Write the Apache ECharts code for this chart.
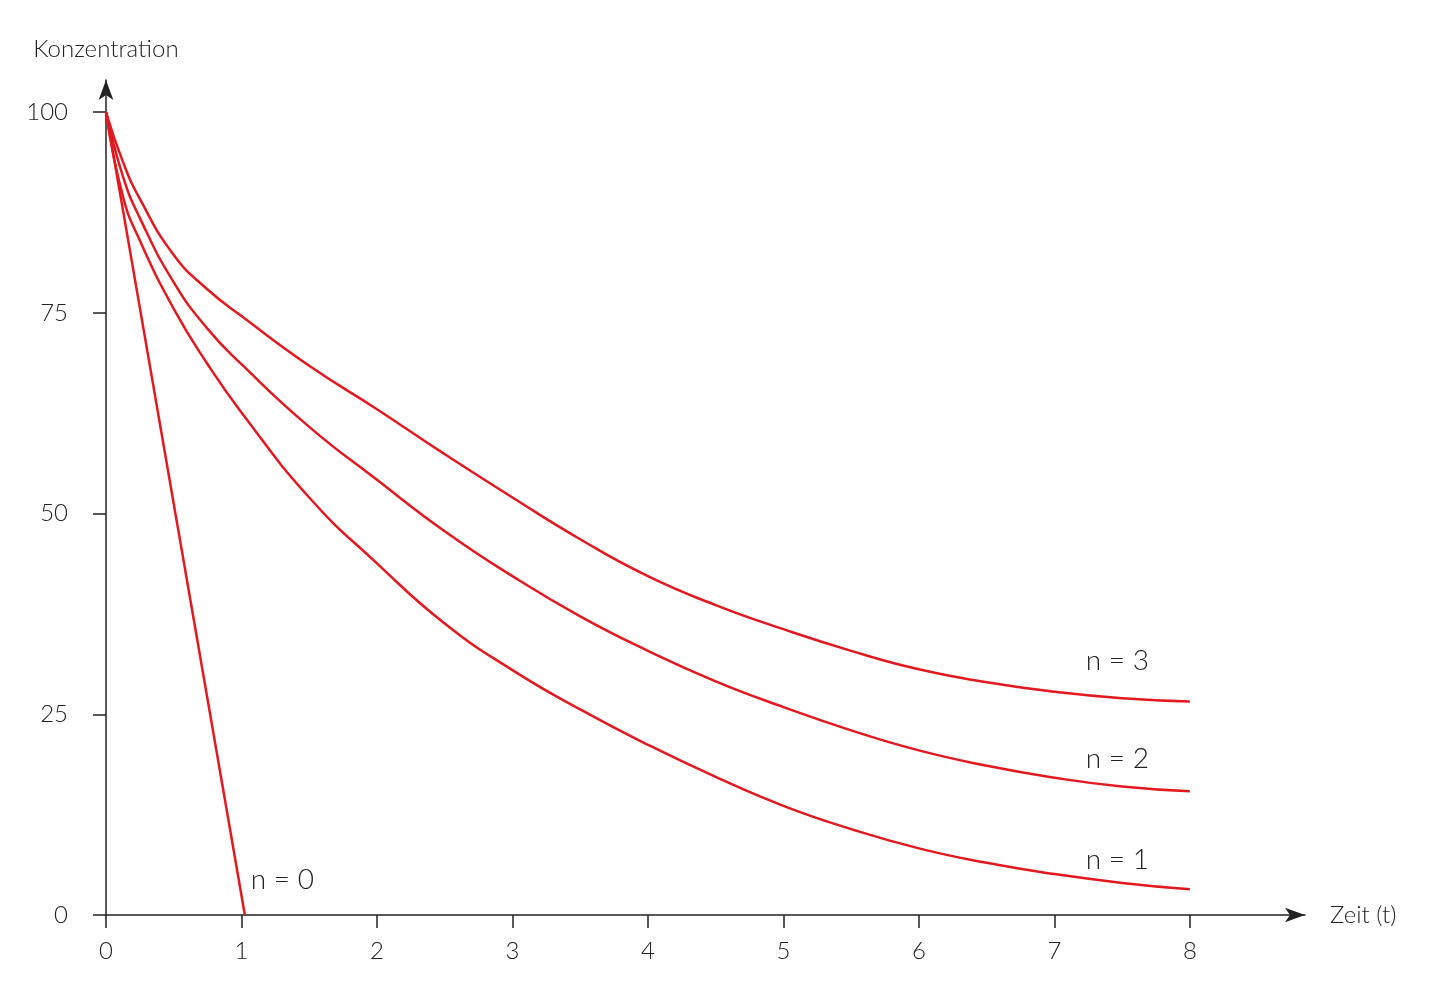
<!DOCTYPE html>
<html>
<head>
<meta charset="utf-8">
<title>Konzentration</title>
<script src="https://cdn.jsdelivr.net/npm/echarts@6/dist/echarts.min.js"></script>
<style>
  html, body { margin: 0; padding: 0; background: #fff; }
  #chart { width: 1450px; height: 999px; }
</style>
</head>
<body>
<div id="chart"></div>
<script>
const zeit = [0, 0.125, 0.25, 0.5, 0.75, 1, 1.5, 2, 2.5, 3, 3.5, 4, 4.5, 5, 5.5, 6, 6.5, 7, 7.5, 8]
const kN1 = [100, 89.5, 84, 75.5, 68.6, 62.6, 52.0, 43.8, 36.3, 30.5, 25.6, 21.2, 17.2, 13.6, 10.7, 8.3, 6.5, 5.1, 4.0, 3.2]
const kN2 = [100, 92, 86.8, 78.8, 73.0, 68.6, 60.8, 54.2, 47.8, 42.2, 37.2, 32.9, 29.1, 25.9, 23.0, 20.5, 18.6, 17.1, 16.0, 15.4]
const kN3 = [100, 93.8, 89.2, 82.2, 77.9, 74.6, 68.4, 63.0, 57.4, 52.0, 46.8, 42.2, 38.6, 35.6, 32.9, 30.6, 29.0, 27.8, 27.0, 26.6]
const zeitN0 = [0, 1.025]
const kN0 = [100, 0]

const xTicks = [0, 1, 2, 3, 4, 5, 6, 7, 8]
const yTicks = [0, 25, 50, 75, 100]

const pairs = (xs, ys) => xs.map((x, i) => [x, ys[i]])

const rot = '#e3191f'
const ink = '#222'
const font = 'Lato, "Open Sans", sans-serif'

const chart = echarts.init(document.getElementById('chart'))

const axisCommon = {
  type: 'value',
  splitLine: { show: false },
  axisLine: {
    show: true,
    symbol: ['none', 'arrow'],
    symbolSize: [11, 20],
    lineStyle: { color: ink, width: 1.5 }
  },
  axisTick: {
    show: true,
    inside: false,
    length: 13,
    lineStyle: { color: ink, width: 1.5 }
  },
  axisLabel: {
    color: ink,
    fontFamily: font,
    fontWeight: 300,
    fontSize: 24
  },
  nameTextStyle: {
    color: ink,
    fontFamily: font,
    fontWeight: 300,
    fontSize: 24
  }
}

const labelStyle = {
  show: true,
  color: ink,
  fontFamily: font,
  fontWeight: 300,
  fontSize: 28,
  distance: 0,
  align: 'left',
  verticalAlign: 'middle'
}

const kurve = (name, xs, ys, offset, smooth) => ({
  name,
  type: 'line',
  data: pairs(xs, ys),
  symbol: 'none',
  smooth,
  lineStyle: { color: rot, width: 2.5 },
  endLabel: Object.assign({}, labelStyle, { formatter: name, offset })
})

chart.setOption({
  animation: false,
  backgroundColor: '#fff',
  grid: { left: 106, right: 145, top: 80, bottom: 84 },
  xAxis: Object.assign({}, axisCommon, {
    min: 0,
    max: 8.85,
    name: 'Zeit (t)',
    nameLocation: 'end',
    nameGap: 25,
    axisTick: Object.assign({}, axisCommon.axisTick, { customValues: xTicks }),
    axisLabel: Object.assign({}, axisCommon.axisLabel, { customValues: xTicks, margin: 24 })
  }),
  yAxis: Object.assign({}, axisCommon, {
    min: 0,
    max: 104,
    name: 'Konzentration',
    nameLocation: 'end',
    nameGap: 19,
    nameTextStyle: Object.assign({}, axisCommon.nameTextStyle, { align: 'center' }),
    axisTick: Object.assign({}, axisCommon.axisTick, { customValues: yTicks }),
    axisLabel: Object.assign({}, axisCommon.axisLabel, { customValues: yTicks, margin: 38 })
  }),
  series: [
    kurve('n = 0', zeitN0, kN0, [6, -35], false),
    kurve('n = 1', zeit, kN1, [-104, -29], 0.5),
    kurve('n = 2', zeit, kN2, [-104, -32], 0.5),
    kurve('n = 3', zeit, kN3, [-104, -40], 0.5)
  ]
})
</script>
</body>
</html>
